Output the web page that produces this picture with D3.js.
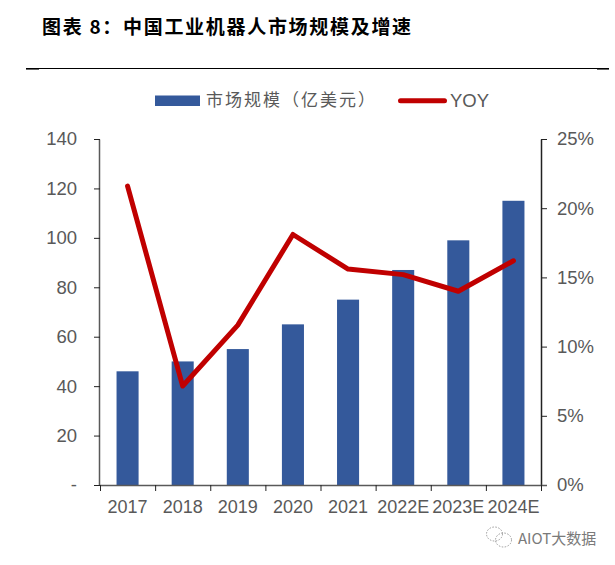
<!DOCTYPE html>
<html><head><meta charset="utf-8">
<script src="https://cdn.jsdelivr.net/npm/d3@7"></script>
<style>html,body{margin:0;padding:0;background:#fff}svg{display:block}</style>
</head><body><svg id="c" width="615" height="565"></svg>
<script>
const categories=["2017","2018","2019","2020","2021","2022E","2023E","2024E"];
const marketSize=[46,50,55,65,75,87,99,115];
const yoy=[21.6,7.15,11.55,18.1,15.6,15.2,14.0,16.2];
const leftTicks=[0,20,40,60,80,100,120,140];
const rightTicks=[0,5,10,15,20,25];
const titleText="图表 8\uff1a中国工业机器人市场规模及增速";
const seriesNames=["市场规模\uff08亿美元\uff09","YOY"];
const watermark="AIOT大数据";

const svg=d3.select("#c");
const latin="'Liberation Sans',Arial,sans-serif";
const cjk="'Noto Sans CJK SC',sans-serif";
const grey="#595959";
const x=d3.scaleBand().domain(categories).range([100,541]).paddingInner(0.6).paddingOuter(0.3);
const y=d3.scaleLinear().domain([0,140]).range([485,139]);
const y2=d3.scaleLinear().domain([0,25]).range([485,139]);

svg.append("text").attr("x",42).attr("y",34).attr("font-family",cjk).attr("font-weight",700)
  .attr("font-size",19).attr("letter-spacing",1.7).attr("fill","#000").text(titleText);
svg.append("line").attr("x1",26).attr("x2",609).attr("y1",68.5).attr("y2",68.5).attr("stroke","#000").attr("stroke-width",1);
svg.append("line").attr("x1",26).attr("x2",39).attr("y1",68.8).attr("y2",68.8).attr("stroke","#000").attr("stroke-width",1.6);
svg.append("line").attr("x1",597).attr("x2",609).attr("y1",68.8).attr("y2",68.8).attr("stroke","#000").attr("stroke-width",1.6);

svg.selectAll("rect.bar").data(marketSize).join("rect").attr("class","bar")
  .attr("x",(d,i)=>x(categories[i])).attr("width",x.bandwidth())
  .attr("y",d=>y(d)).attr("height",d=>y(0)-y(d)).attr("fill","#34599b");

const gl=svg.append("g").attr("transform","translate(100,0)")
  .call(d3.axisLeft(y).tickValues(leftTicks).tickSize(6).tickPadding(17).tickFormat(d=>d===0?"-":d));
const gr=svg.append("g").attr("transform","translate(541,0)")
  .call(d3.axisRight(y2).tickValues(rightTicks).tickSize(6).tickPadding(10).tickFormat(d=>d+"%"));
const gb=svg.append("g").attr("transform","translate(0,485)")
  .call(d3.axisBottom(d3.scalePoint().domain(d3.range(9)).range([100,541])).tickSize(6).tickFormat(""));
gb.selectAll("text").remove();
gb.selectAll(".tick line").attr("stroke","#222");
gb.select(".domain").attr("stroke",grey).attr("stroke-width",1.5).attr("d","M100,0.5H547");
gl.select(".domain").attr("stroke",grey).attr("stroke-width",1.5).attr("d","M-0.5,139.5V485");
gr.select(".domain").attr("stroke","#222").attr("stroke-width",1.5).attr("d","M0.5,139.5V485");
[gl,gr].forEach(g=>{
  g.selectAll("text").attr("font-family",latin).attr("font-size",18.5).attr("fill",grey);
  g.selectAll(".tick line").attr("stroke","#222");
});
svg.selectAll("text.cat").data(categories).join("text").attr("class","cat")
  .attr("x",d=>x(d)+x.bandwidth()/2).attr("y",513).attr("text-anchor","middle")
  .attr("font-family",latin).attr("font-size",18).attr("fill",grey).text(d=>d);

const line=d3.line().x((d,i)=>x(categories[i])+x.bandwidth()/2).y(d=>y2(d));
svg.append("path").attr("d",line(yoy)).attr("fill","none").attr("stroke","#c00000")
  .attr("stroke-width",5).attr("stroke-linecap","round").attr("stroke-linejoin","round");

svg.append("rect").attr("x",155).attr("y",95.5).attr("width",45).attr("height",10.5).attr("fill","#34599b");
svg.append("text").attr("x",206).attr("y",106).attr("font-family",cjk).attr("font-size",17)
  .attr("letter-spacing",2).attr("fill",grey).text(seriesNames[0]);
svg.append("line").attr("x1",400.5).attr("x2",444.5).attr("y1",100.7).attr("y2",100.7)
  .attr("stroke","#c00000").attr("stroke-width",5).attr("stroke-linecap","round");
svg.append("text").attr("x",450).attr("y",107).attr("font-family",latin).attr("font-size",18.5)
  .attr("fill",grey).text(seriesNames[1]);

const wm=svg.append("g").attr("transform","translate(498.5,537)").attr("fill","none").attr("stroke","#999").attr("stroke-dasharray","1.5 1.5");
wm.append("ellipse").attr("cx",-4).attr("cy",-3).attr("rx",8).attr("ry",7);
wm.append("ellipse").attr("cx",5).attr("cy",3).attr("rx",8).attr("ry",7);
svg.append("text").attr("x",518).attr("y",544).attr("font-family",cjk).attr("font-size",15).attr("fill","#7a7a7a").text(watermark);
</script></body></html>
